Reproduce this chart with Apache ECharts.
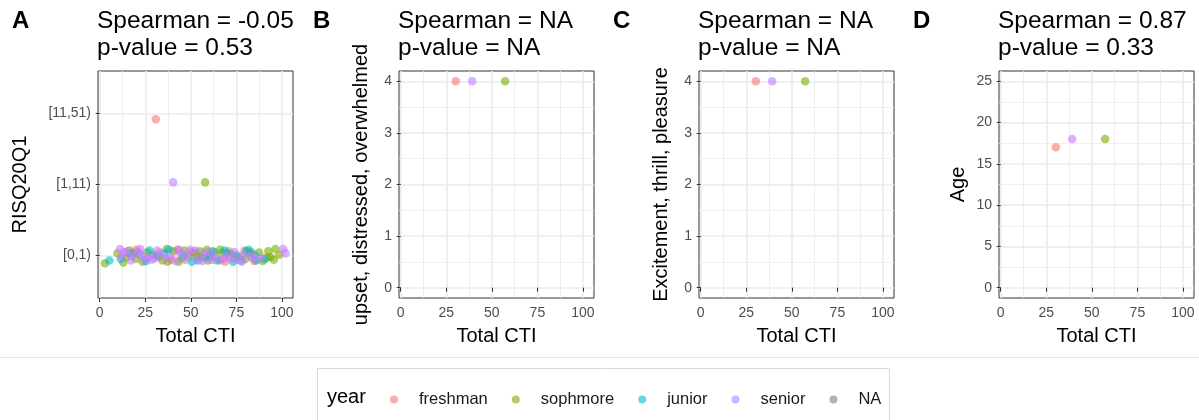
<!DOCTYPE html>
<html>
<head>
<meta charset="utf-8">
<script src="https://cdn.jsdelivr.net/npm/echarts@6/dist/echarts.min.js"></script>
<style>
html,body{margin:0;padding:0;background:#fff;}
#chart{width:1199px;height:420px;}
</style>
</head>
<body>
<div id="chart"></div>
<script>
// ---------- data ----------
const years = ['freshman', 'sophmore', 'junior', 'senior', 'NA'];
const panelLetters = ['A', 'B', 'C', 'D'];
const panelTitles = [
  'Spearman = -0.05\np-value = 0.53',
  'Spearman = NA\np-value = NA',
  'Spearman = NA\np-value = NA',
  'Spearman = 0.87\np-value = 0.33'
];
const yTitles = ['RISQ20Q1', 'upset, distressed, overwhelmed', 'Excitement, thrill, pleasure', 'Age'];
const riskLevels = ['[0,1)', '[1,11)', '[11,51)'];
const xTicks = [0, 25, 50, 75, 100];
const yTicksBC = [0, 1, 2, 3, 4];
const yTicksD = [0, 5, 10, 15, 20, 25];

// Panel A: [Total CTI, RISQ20Q1 level (1..3, jittered)]
const aFreshman = [[30.8, 2.92], [42.7, 1.08], [56.1, 0.97], [65.8, 0.93], [70.8, 1.06], [83.1, 1.05],
  [20.0, 1.08], [29.0, 1.01], [39.0, 0.94], [50.8, 1.05], [61.0, 1.0], [68.8, 0.91], [73.8, 0.96],
  [79.5, 1.07], [84.8, 0.92]];
const aSophmore = [[57.8, 2.03], [2.9, 0.89], [9.7, 1.03], [12.9, 0.90], [16.3, 1.07], [18.5, 1.03],
  [23.6, 0.91], [32.2, 0.98], [36.8, 1.09], [37.2, 0.91], [43.3, 0.91], [45.1, 0.96], [48.8, 0.98],
  [51.9, 1.03], [53.7, 0.99], [58.8, 1.08], [62.9, 1.04], [67.1, 1.03], [82.3, 1.03], [91.9, 0.97],
  [93.7, 0.98], [95.5, 0.94], [96.4, 1.09], [14.5, 0.97], [19.8, 0.95], [26.0, 1.04], [34.5, 0.93],
  [40.5, 1.06], [46.5, 1.07], [55.0, 1.06], [59.5, 0.93], [66.0, 1.08], [72.5, 1.02], [76.5, 0.98],
  [80.0, 0.95], [87.5, 1.04], [89.5, 0.92], [92.5, 1.06], [98.5, 1.01]];
const aJunior = [[5.3, 0.93], [21.8, 1.02], [27.3, 1.07], [35.4, 1.03], [50.6, 0.91], [60.3, 0.99],
  [64.3, 0.93], [68.4, 1.07], [73.2, 0.91], [77.6, 0.93], [81.8, 1.08], [86.0, 0.93], [11.5, 0.95],
  [16.8, 1.02], [25.5, 0.92], [31.0, 1.0], [38.0, 1.08], [45.8, 1.0], [53.8, 0.93], [58.0, 0.97],
  [62.0, 1.06], [70.0, 1.03], [75.0, 1.0], [80.5, 1.06], [85.0, 1.01], [90.5, 0.95]];
const aSenior = [[40.3, 2.03], [11.1, 1.09], [12.1, 0.98], [15.2, 1.06], [17.0, 0.93], [20.7, 1.05],
  [22.2, 1.09], [24.9, 0.94], [28.6, 0.94], [30.4, 0.96], [33.2, 1.04], [38.7, 0.99], [44.2, 1.03],
  [47.0, 0.94], [49.7, 1.08], [53.0, 0.94], [57.4, 1.03], [61.6, 0.94], [69.5, 0.99], [71.7, 0.96],
  [75.4, 0.94], [79.0, 1.01], [84.2, 0.96], [100.7, 1.09], [102.0, 1.03], [13.5, 1.05], [18.0, 0.99],
  [23.0, 1.0], [26.5, 0.97], [31.5, 1.07], [35.9, 0.96], [41.5, 0.92], [43.5, 1.08], [48.0, 1.02],
  [52.5, 1.07], [56.5, 0.92], [60.0, 1.05], [63.5, 0.98], [67.8, 0.95], [74.0, 1.05], [78.0, 0.91],
  [82.8, 0.99], [88.5, 0.97]];

// Panels B-D: one respondent per year (freshman, sophmore, senior)
const smallCTI = { freshman: 30.2, sophmore: 57.3, senior: 39.2 };
const upsetVals = { freshman: 4, sophmore: 4, senior: 4 };
const thrillVals = { freshman: 4, sophmore: 4, senior: 4 };
const ageVals = { freshman: 17, sophmore: 18, senior: 18 };

// ---------- style ----------
const yearColors = { freshman: '#F8766D', sophmore: '#7CAE00', junior: '#00BFC4', senior: '#C77CFF', NA: '#7F7F7F' };
const gridLefts = [98, 399, 699, 999];
const gridW = 195, gridTop = 71, gridH = 227;
const gridCol = '#EBEBEB';
const yNameGaps = [68, 28, 28, 31];
const FONT = 'Liberation Sans';

const chart = echarts.init(document.getElementById('chart'), null, { renderer: 'canvas' });

const grids = gridLefts.map(l => ({
  left: l, top: gridTop, width: gridW, height: gridH,
  show: true, borderColor: '#333333', borderWidth: 1, backgroundColor: 'transparent'
}));

function isMult(v, m) { const r = Math.abs(v / m - Math.round(v / m)); return r < 1e-6; }

const xAxes = gridLefts.map((l, i) => ({
  type: 'value', gridIndex: i, min: -0.96, max: 106.06,
  splitNumber: 4, minInterval: 25, maxInterval: 25,
  name: 'Total CTI', nameLocation: 'middle', nameGap: 28,
  nameTextStyle: { fontSize: 20, color: '#000', fontFamily: FONT },
  axisLine: { show: false },
  axisTick: { show: true, length: 4, lineStyle: { color: '#333333', width: 1 }, customValues: xTicks },
  axisLabel: { color: '#4D4D4D', fontSize: 14, margin: 8, fontFamily: FONT,
    customValues: xTicks, showMinLabel: true, showMaxLabel: true,
    formatter: v => (isMult(v, 25) ? String(Math.round(v)) : '') },
  splitLine: { show: true, lineStyle: { color: gridCol, width: 1.6 } },
  minorTick: { show: false, splitNumber: 2 },
  minorSplitLine: { show: true, lineStyle: { color: gridCol, width: 0.8 } }
}));

function yBase(i) {
  return {
    type: 'value', gridIndex: i,
    name: yTitles[i], nameLocation: 'middle', nameGap: yNameGaps[i],
    nameTextStyle: { fontSize: 20, color: '#000', fontFamily: FONT },
    axisLine: { show: false },
    axisTick: { show: true, length: 4, lineStyle: { color: '#333333', width: 1 } },
    axisLabel: { color: '#4D4D4D', fontSize: 14, margin: 7, fontFamily: FONT, showMinLabel: true, showMaxLabel: true },
    splitLine: { show: true, lineStyle: { color: gridCol, width: 1.6 } }
  };
}
const yA = yBase(0);
Object.assign(yA, { min: 0.4, max: 3.6, splitNumber: 3, minInterval: 1, maxInterval: 1 });
yA.axisTick.customValues = [1, 2, 3];
yA.axisLabel.customValues = [1, 2, 3];
yA.axisLabel.formatter = v => (isMult(v, 1) && v >= 1 && v <= 3 ? riskLevels[Math.round(v) - 1] : '');

function yBC(i) {
  const y = yBase(i);
  Object.assign(y, { min: -0.2, max: 4.2, splitNumber: 4, minInterval: 1, maxInterval: 1 });
  y.axisTick.customValues = yTicksBC;
  y.axisLabel.customValues = yTicksBC;
  y.axisLabel.formatter = v => (isMult(v, 1) && v >= 0 ? String(Math.round(v)) : '');
  y.minorTick = { show: false, splitNumber: 2 };
  y.minorSplitLine = { show: true, lineStyle: { color: gridCol, width: 0.8 } };
  return y;
}
const yD = yBase(3);
Object.assign(yD, { min: -1.25, max: 26.25, splitNumber: 5, minInterval: 5, maxInterval: 5 });
yD.axisTick.customValues = yTicksD;
yD.axisLabel.customValues = yTicksD;
yD.axisLabel.formatter = v => (isMult(v, 5) && v >= 0 ? String(Math.round(v)) : '');
yD.minorTick = { show: false, splitNumber: 2 };
yD.minorSplitLine = { show: true, lineStyle: { color: gridCol, width: 0.8 } };

const yAxes = [yA, yBC(1), yBC(2), yD];

function sc(name, idx, data) {
  return {
    type: 'scatter', name: name, xAxisIndex: idx, yAxisIndex: idx, data: data,
    symbol: 'circle', symbolSize: 8.5,
    itemStyle: { color: yearColors[name], opacity: 0.6 },
    emphasis: { disabled: true }, silent: true
  };
}
const series = [
  sc('freshman', 0, aFreshman), sc('sophmore', 0, aSophmore), sc('junior', 0, aJunior), sc('senior', 0, aSenior),
  sc('NA', 0, [])
];
[[1, upsetVals], [2, thrillVals], [3, ageVals]].forEach(([idx, vals]) => {
  ['freshman', 'sophmore', 'senior'].forEach(y => {
    series.push(sc(y, idx, [[smallCTI[y], vals[y]]]));
  });
});

const titles = [];
gridLefts.forEach((l, i) => {
  titles.push({ text: panelLetters[i], left: l - 86, top: 8, padding: 0,
    textStyle: { fontSize: 24, fontWeight: 'bold', color: '#000', fontFamily: FONT, lineHeight: 27 } });
  titles.push({ text: panelTitles[i], left: l - 1, top: 8, padding: 0,
    textStyle: { fontSize: 24.5, fontWeight: 'normal', color: '#000', fontFamily: FONT, lineHeight: 27 } });
});

chart.setOption({
  animation: false,
  backgroundColor: '#ffffff',
  title: titles,
  grid: grids,
  xAxis: xAxes,
  yAxis: yAxes,
  legend: {
    data: years, left: 390, top: 391, padding: 0,
    icon: 'circle', itemWidth: 8, itemHeight: 8, itemGap: 24,
    selectedMode: false,
    itemStyle: { opacity: 0.6 },
    textStyle: { fontSize: 16.5, color: '#1A1A1A', fontFamily: FONT, lineHeight: 16, padding: [0, 0, 0, 16] }
  },
  graphic: [
    { type: 'line', shape: { x1: 0, y1: 357.5, x2: 1199, y2: 357.5 }, style: { stroke: '#E3E3E3', lineWidth: 1 }, silent: true },
    { type: 'rect', shape: { x: 317.5, y: 368.5, width: 572, height: 60 }, style: { fill: 'none', stroke: '#D9D9D9', lineWidth: 1 }, silent: true },
    { type: 'text', left: 327, top: 387, style: { text: 'year', fontSize: 20, fill: '#000', fontFamily: FONT }, silent: true }
  ],
  series: series
});
</script>
</body>
</html>
